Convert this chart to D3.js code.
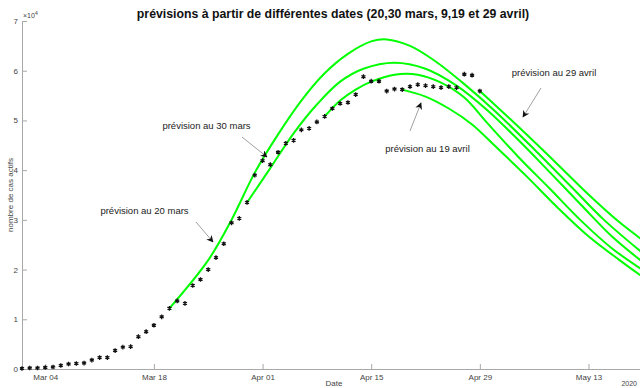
<!DOCTYPE html>
<html>
<head>
<meta charset="utf-8">
<script src="https://cdn.jsdelivr.net/npm/d3@7"></script>
<style>
  body { margin: 0; background: #fff; }
  svg { display: block; font-family: "Liberation Sans", Arial, sans-serif; }
</style>
</head>
<body>
<svg id="chart"></svg>
<script>
// cas actifs observés, un point par jour à partir du 1er mars
const startDate = "2020-03-01";
const observed = [
  100, 200, 200, 300, 400, 700, 1000, 1100, 1200, 1800,
  2300, 2300, 3700, 4400, 4500, 6500, 7500, 8800, 10500, 12200,
  13700, 13200, 16800, 18000, 20000, 22400, 25200, 29400, 30300, 33500,
  39000, 41900, 41100, 43600, 45400, 46000, 48100, 48400, 49700, 50800,
  52400, 53400, 53600, 55200, 58800, 57900, 57900, 55900, 56300, 56200,
  56800, 57200, 57000, 56800, 56600, 56800, 56600, 59300, 59100, 55900
];

// courbes de prévision
const prev20mars = [
  ["2020-03-20", 12200], ["2020-03-25", 21900], ["2020-03-28", 30000], ["2020-03-31", 39500],
  ["2020-04-03", 47200], ["2020-04-06", 54000], ["2020-04-09", 59500], ["2020-04-12", 63400],
  ["2020-04-15", 65900], ["2020-04-17", 66300], ["2020-04-20", 65000], ["2020-04-23", 62200],
  ["2020-04-27", 57300], ["2020-05-01", 51800], ["2020-05-06", 44200], ["2020-05-11", 36300],
  ["2020-05-15", 30000], ["2020-05-20", 23300]
];
const prev30mars = [
  ["2020-03-30", 33500], ["2020-04-02", 40400], ["2020-04-05", 47400], ["2020-04-08", 53200],
  ["2020-04-11", 57800], ["2020-04-14", 60400], ["2020-04-18", 61600], ["2020-04-22", 60400],
  ["2020-04-26", 57000], ["2020-04-30", 52000], ["2020-05-04", 46000], ["2020-05-08", 39600],
  ["2020-05-12", 33100], ["2020-05-16", 26700], ["2020-05-20", 21500]
];
const prev9avril = [
  ["2020-04-09", 50800], ["2020-04-11", 54000], ["2020-04-13", 56200], ["2020-04-15", 57800],
  ["2020-04-18", 59200], ["2020-04-21", 59200], ["2020-04-24", 57600], ["2020-04-27", 54600],
  ["2020-04-30", 49400], ["2020-05-04", 42600], ["2020-05-08", 36300], ["2020-05-12", 29900],
  ["2020-05-16", 24300], ["2020-05-20", 19900]
];
const prev19avril = [
  ["2020-04-19", 56200], ["2020-04-22", 54800], ["2020-04-25", 52400], ["2020-04-28", 49200],
  ["2020-05-01", 44800], ["2020-05-05", 38800], ["2020-05-09", 32500], ["2020-05-13", 26700],
  ["2020-05-17", 21900], ["2020-05-20", 18500]
];
const prev29avril = [
  ["2020-04-29", 55900], ["2020-05-02", 51600], ["2020-05-05", 47200], ["2020-05-09", 41200],
  ["2020-05-13", 35100], ["2020-05-17", 29500], ["2020-05-20", 25900]
];

const xTicks = ["2020-03-04", "2020-03-18", "2020-04-01", "2020-04-15", "2020-04-29", "2020-05-13"];
const yTicks = [0, 10000, 20000, 30000, 40000, 50000, 60000, 70000];

// annotations: texte et flèche, en pixels
const notes = [
  { label: "prévision au 20 mars", tx: 144.5, ty: 213.5, x1: 196, y1: 222, x2: 213, y2: 242 },
  { label: "prévision au 30 mars", tx: 206.5, ty: 128.5, x1: 242, y1: 137, x2: 267, y2: 157 },
  { label: "prévision au 19 avril", tx: 427.5, ty: 151.5, x1: 410, y1: 131, x2: 421, y2: 103 },
  { label: "prévision au 29 avril", tx: 554, ty: 76, x1: 541, y1: 88, x2: 523, y2: 117 }
];

const W = 640, H = 388;
const parse = d3.utcParse("%Y-%m-%d");

const svg = d3.select("#chart").attr("width", W).attr("height", H);

const x = d3.scaleUtc()
  .domain([parse("2020-03-01"), parse("2020-05-20")])
  .range([22, 642.8]);
const y = d3.scaleLinear()
  .domain([0, 70000])
  .range([369, 21]);

const axisColor = "#a8a8a8";
const textColor = "#444";

// axes
const gx = svg.append("g")
  .attr("transform", `translate(0,${y(0)})`)
  .call(d3.axisBottom(x)
    .tickValues(xTicks.map(parse))
    .tickFormat(d3.utcFormat("%b %d"))
    .tickSize(-5)
    .tickPadding(5)
    .tickSizeOuter(0));
gx.select(".domain").attr("stroke", axisColor).attr("d", `M22,0.5H${W}`);
gx.selectAll(".tick line").attr("stroke", axisColor);
gx.selectAll(".tick text").attr("fill", textColor).attr("font-size", 8);

const gy = svg.append("g")
  .attr("transform", `translate(${x.range()[0]},0)`)
  .call(d3.axisLeft(y)
    .tickValues(yTicks)
    .tickFormat(d => d / 10000)
    .tickSize(-5)
    .tickPadding(4)
    .tickSizeOuter(0));
gy.select(".domain").attr("stroke", axisColor);
gy.selectAll(".tick line").attr("stroke", axisColor);
gy.selectAll(".tick text").attr("fill", textColor).attr("font-size", 8);

// exposant
const expo = svg.append("text")
  .attr("x", 23).attr("y", 18)
  .attr("font-size", 7).attr("fill", textColor)
  .text("×10");
expo.append("tspan").attr("dy", -3).attr("font-size", 5).text("4");

svg.append("text")
  .attr("x", 334).attr("y", 386)
  .attr("text-anchor", "middle")
  .attr("font-size", 8).attr("fill", textColor)
  .text("Date");
svg.append("text")
  .attr("x", 637).attr("y", 386)
  .attr("text-anchor", "end")
  .attr("font-size", 7).attr("fill", textColor)
  .text("2020");
svg.append("text")
  .attr("transform", "translate(13,195) rotate(-90)")
  .attr("text-anchor", "middle")
  .attr("font-size", 8).attr("fill", textColor)
  .text("nombre de cas actifs");

// titre
svg.append("text")
  .attr("x", 333).attr("y", 18)
  .attr("text-anchor", "middle")
  .attr("font-size", 12.3).attr("font-weight", "bold").attr("fill", "#111")
  .text("prévisions à partir de différentes dates (20,30 mars, 9,19 et 29 avril)");

// courbes de prévision
const line = d3.line()
  .x(d => x(parse(d[0])))
  .y(d => y(d[1]))
  .curve(d3.curveCatmullRom.alpha(0.5));

const forecasts = [prev20mars, prev30mars, prev9avril, prev19avril, prev29avril];
svg.append("g")
  .selectAll("path")
  .data(forecasts)
  .join("path")
  .attr("d", line)
  .attr("fill", "none")
  .attr("stroke", "#00ff00")
  .attr("stroke-width", 2);

// points observés
const start = parse(startDate);
svg.append("g")
  .selectAll("path")
  .data(observed)
  .join("path")
  .attr("transform", (d, i) => `translate(${x(d3.utcDay.offset(start, i))},${y(d)})`)
  .attr("d", d3.symbol(d3.symbolAsterisk, 15))
  .attr("fill", "none")
  .attr("stroke", "#111")
  .attr("stroke-width", 1.3);

// flèches et annotations
svg.append("defs").append("marker")
  .attr("id", "head")
  .attr("viewBox", "0 0 10 10")
  .attr("refX", 9).attr("refY", 5)
  .attr("markerWidth", 7).attr("markerHeight", 7)
  .attr("markerUnits", "userSpaceOnUse")
  .attr("orient", "auto")
  .append("path")
  .attr("d", "M0,0L10,5L0,10L3,5Z")
  .attr("fill", "#111");

const gn = svg.append("g");
gn.selectAll("line")
  .data(notes)
  .join("line")
  .attr("x1", d => d.x1).attr("y1", d => d.y1)
  .attr("x2", d => d.x2).attr("y2", d => d.y2)
  .attr("stroke", "#888")
  .attr("stroke-width", 0.8)
  .attr("marker-end", "url(#head)");
gn.selectAll("text")
  .data(notes)
  .join("text")
  .attr("x", d => d.tx).attr("y", d => d.ty)
  .attr("text-anchor", "middle")
  .attr("font-size", 9.5)
  .attr("fill", "#222")
  .text(d => d.label);
</script>
</body>
</html>
